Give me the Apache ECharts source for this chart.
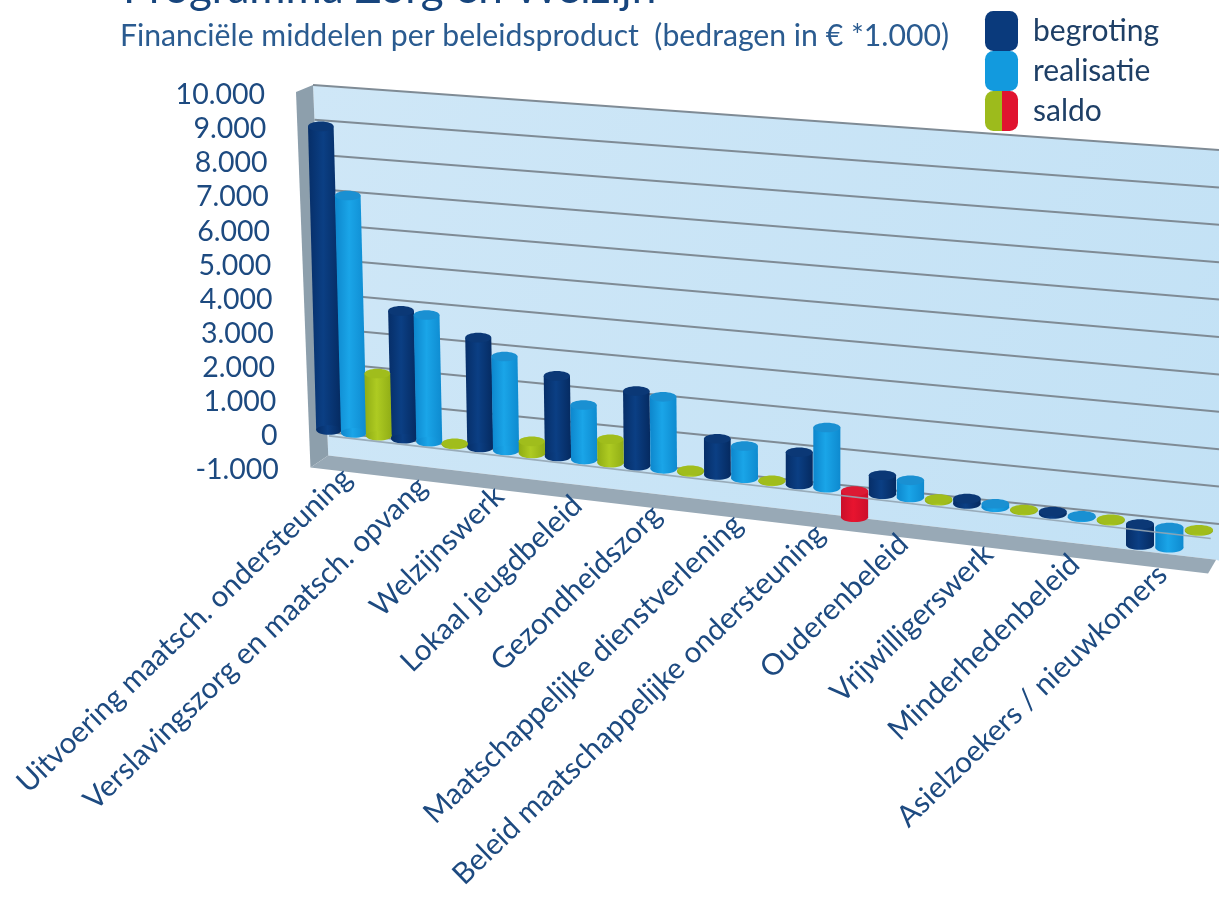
<!DOCTYPE html>
<html><head><meta charset="utf-8">
<style>html,body{margin:0;padding:0;background:#fff}#c{width:1219px;height:901px}</style>
<script src="https://cdn.jsdelivr.net/npm/echarts@6/dist/echarts.min.js"></script>
</head><body><div id="c"></div>
<script>
const categories = ["Uitvoering maatsch. ondersteuning","Verslavingszorg en maatsch. opvang","Welzijnswerk","Lokaal jeugdbeleid","Gezondheidszorg","Maatschappelijke dienstverlening","Beleid maatschappelijke ondersteuning","Ouderenbeleid","Vrijwilligerswerk","Minderhedenbeleid","Asielzoekers / nieuwkomers"];
const begroting  = [8800,3690,3160,2310,2130,1030,915,535,150,70,-580];
const realisatie = [6870,3650,2700,1560,2050,915,1700,480,100,40,-560];
const saldo      = [1800,40,350,670,50,30,-740,50,30,40,30];
const yTicks = [10000,9000,8000,7000,6000,5000,4000,3000,2000,1000,0,-1000];
const yTickLabels = ["10.000","9.000","8.000","7.000","6.000","5.000","4.000","3.000","2.000","1.000","0","-1.000"];
const gridTicks = [10000,9000,8000,7000,6000,5000,4000,3000,2000,1000,0];

const font = 'Lato, "Open Sans", sans-serif';
const navy = '#1d4a80';

// Oblique view of the plot: category position u and axis pixels -> picture
const frontX = u => 329 + 74.3*u + 0.68*u*u;
const frontY0 = X => 430 + (X-329)*0.116;
const frontScale = X => (34.5 + (X-329)/811*1.5) / (375/11);
const frontLean = X => Math.max(0, 0.027*(1-(X-329)/500));
function front(api, u, v){
  const o = api.coord([0,0]), p = api.coord([0,v]);
  const X = frontX(u), h = (o[1]-p[1])*frontScale(X);
  return [X - frontLean(X)*h, frontY0(X) - h];
}
function wall(api, t, v){
  const o = api.coord([0,0]), p = api.coord([0,v]);
  const n = (o[1]-p[1])/(375/11)*1000;          // value recovered from axis pixels
  const d = (10000-n);
  const xl = 313 + d*0.00145, xr = 1219;
  const yl = 85 + d*0.0347,  yr = 150 + d*0.0374;
  return [xl+(xr-xl)*t, yl+(yr-yl)*t];
}
const g = (a,b,c)=>({type:'linear',x:0,y:0,x2:1,y2:0,colorStops:[{offset:0,color:a},{offset:.45,color:b},{offset:1,color:c}]});
const skins = {
  begroting:{body:g('#062e68','#0b3f84','#052a60'),top:'#0b3876'},
  realisatie:{body:g('#0d86cc','#1aa5e8','#0e8acf'),top:'#1a90d2'},
  pos:{body:g('#8fac14','#aecb22','#90ad16'),top:'#a0bd1c'},
  neg:{body:g('#c90f2a','#e8142f','#cc0f2b'),top:'#dc1a34'}
};
function cylinder(k, skinOf){
  return function(params, api){
    const i = api.value(0), v = api.value(1);
    const band = api.size([1,0])[0];
    const u = (api.coord([i,0])[0]-api.coord([0,0])[0])/band + k/3;
    const a = front(api,u,0), b = front(api,u,v);
    const rx = 12.8 + (a[0]-329)/811*1.2, ry = 4.8;
    const top = a[1]<b[1]?a:b, bot = a[1]<b[1]?b:a;
    const s = skinOf(v);
    return {type:'group',children:[
      {type:'polygon',shape:{points:[[top[0]-rx,top[1]],[top[0]+rx,top[1]],[bot[0]+rx,bot[1]],[bot[0]-rx,bot[1]]]},style:{fill:s.body}},
      {type:'ellipse',shape:{cx:bot[0],cy:bot[1],rx:rx,ry:ry},style:{fill:s.body}},
      {type:'ellipse',shape:{cx:top[0],cy:top[1],rx:rx,ry:ry},style:{fill:s.top}}
    ]};
  };
}
const frame = {
  type:'custom',silent:true,data:[[0,0]],z:1,
  renderItem(params, api){
    const w=(t,v)=>wall(api,t,v), f=(u,v)=>front(api,u,v);
    const tl=w(0,10000), tr=w(1,10000);
    const bl=[frontX(-0.01),f(-0.01,-740)[1]], br=[frontX(10.86),f(10.86,-740)[1]];
    const ol=[frontX(-0.25),f(-0.25,-1150)[1]], or_=[frontX(10.77),f(10.77,-1150)[1]];
    return {type:'group',children:[
      {type:'polygon',shape:{points:[tl,tr,[tr[0],br[1]+1],br,bl]},
        style:{fill:{type:'linear',x:0,y:0,x2:1,y2:1,colorStops:[{offset:0,color:'#cfe7f7'},{offset:1,color:'#c2e1f5'}]}}},
      {type:'polygon',shape:{points:[[296,92],tl,bl,ol]},style:{fill:'#8d9fac'}},
      {type:'polygon',shape:{points:[bl,br,or_,ol]},style:{fill:'#98a9b6'}}
    ]};
  }
};
const gridLines = {
  type:'custom',silent:true,z:2,data:gridTicks.map(v=>[0,v]),
  renderItem(params, api){
    const v=api.value(1), a=wall(api,0,v), b=wall(api,1,v);
    return {type:'line',shape:{x1:a[0],y1:a[1],x2:b[0],y2:b[1]},style:{stroke:'#7f8b95',lineWidth:2}};
  }
};
const mk=(name,arr,k,skinOf)=>({name,type:'custom',silent:true,z:3,data:arr.map((v,i)=>[i,v]),renderItem:cylinder(k,skinOf)});
const floorLine = {
  type:'custom',silent:true,z:4,data:[[0,0]],
  renderItem(params, api){
    const a=front(api,0,-170), b=front(api,10.8,-170);
    return {type:'line',shape:{x1:frontX(0),y1:a[1],x2:frontX(10.8),y2:b[1]},style:{stroke:'#93a5b3',lineWidth:1.6,opacity:.9}};
  }
};
const yLabels = {
  type:'custom',silent:true,z:5,data:yTicks.map((v,i)=>[0,v,i]),
  renderItem(params, api){
    const p=api.coord([0,api.value(1)]);
    return {type:'text',x:265+(p[1]-93)*0.037,y:p[1]+2,style:{text:yTickLabels[api.value(2)],x:0,y:0,align:'right',verticalAlign:'middle',fill:navy,font:'28.5px '+font}};
  }
};
const xLabels = {
  type:'custom',silent:true,z:5,data:categories.map((c,i)=>[i,0]),
  renderItem(params, api){
    const i=api.value(0), band=api.size([1,0])[0];
    const u=(api.coord([i,0])[0]-api.coord([0,0])[0])/band+1/3;
    const X=frontX(u), y=front(api,u,-1150)[1];
    return {type:'text',x:X-7,y:y+1,rotation:44*Math.PI/180,style:{text:categories[i],x:0,y:0,align:'right',verticalAlign:'middle',fill:navy,font:'29.5px '+font}};
  }
};
const chart = echarts.init(document.getElementById('c'));
chart.setOption({
  animation:false,backgroundColor:'#fff',
  title:[
    {text:'Programma Zorg en Welzijn',left:118,top:-38,textStyle:{fontFamily:font,fontWeight:'normal',fontSize:44,color:'#17457d'}},
    {text:'Financiële middelen per beleidsproduct  (bedragen in € *1.000)',left:115,top:16,textStyle:{fontFamily:font,fontWeight:'normal',fontSize:30.2,color:'#2a5b90'}}
  ],
  legend:{orient:'vertical',left:985,top:11,padding:0,itemGap:0,itemWidth:33,itemHeight:40,icon:'roundRect',
    textStyle:{fontFamily:font,fontSize:30,color:'#1e3f66',padding:[4,0,0,10]},selectedMode:false,
    data:[
      {name:'begroting',itemStyle:{color:'#0a3a7c'}},
      {name:'realisatie',itemStyle:{color:'#129ade'}},
      {name:'saldo',itemStyle:{color:{type:'linear',x:0,y:0,x2:1,y2:0,colorStops:[{offset:0,color:'#9dbb1c'},{offset:.5,color:'#9dbb1c'},{offset:.5,color:'#e0132f'},{offset:1,color:'#e0132f'}]}}}
    ]},
  grid:{left:300,width:880,top:93,height:375},
  xAxis:{type:'category',data:categories,axisLabel:{show:false},axisLine:{show:false},axisTick:{show:false}},
  yAxis:{type:'value',min:-1000,max:10000,interval:1000,axisLabel:{show:false},axisLine:{show:false},axisTick:{show:false},splitLine:{show:false}},
  series:[frame,gridLines,
    mk('begroting',begroting,0,()=>skins.begroting),
    mk('realisatie',realisatie,1,()=>skins.realisatie),
    mk('saldo',saldo,2,v=>v<0?skins.neg:skins.pos),
    floorLine,yLabels,xLabels]
});
</script></body></html>
